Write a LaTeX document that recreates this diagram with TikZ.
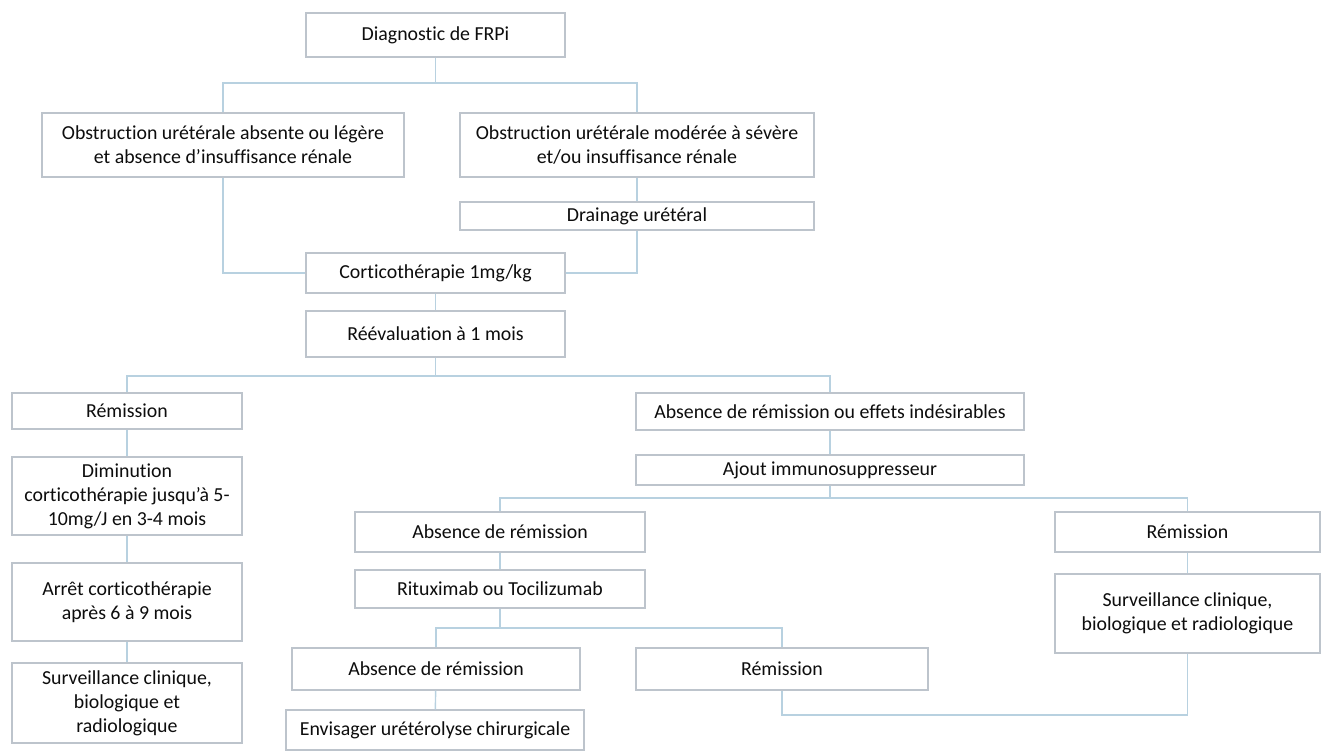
\documentclass[tikz,border=0pt]{standalone}
\usepackage{fontspec}
\setmainfont{Carlito}[Ligatures=NoCommon]
\usepackage{xcolor}
\definecolor{boxgray}{rgb}{0.74,0.77,0.80}
\definecolor{linkblue}{rgb}{0.72,0.82,0.88}
\definecolor{inkgray}{rgb}{0.05,0.05,0.05}

\begin{document}
\begin{tikzpicture}[x=0.02cm,y=-0.02cm,
  box/.style={draw=boxgray,line width=0.6pt,fill=white,align=center,inner sep=0pt,
    text=inkgray,font=\fontsize{11.3}{13.6}\selectfont},
  boxsize/.style 2 args={minimum width=#1*0.02cm,minimum height=#2*0.02cm},
  link/.style={draw=linkblue,line width=0.8pt}]
\useasboundingbox (0,0) rectangle (1325,751);

% Top: diagnosis and first split
\node[box,boxsize={259}{44}] (diag) at (435.5,35) {Diagnostic de FRPi};
\node[box,boxsize={362}{64}] (obsL) at (223,145) {Obstruction urétérale absente ou légère\\ et absence d’insuffisance rénale};
\node[box,boxsize={354}{64}] (obsR) at (637,145) {Obstruction urétérale modérée à sévère\\ et/ou insuffisance rénale};
\node[box,boxsize={354}{28}] (drain) at (637,216) {Drainage urétéral};
\node[box,boxsize={259}{40}] (cortico) at (435.5,273) {Corticothérapie 1mg/kg};
\node[box,boxsize={259}{46}] (reeval) at (435.5,334) {Réévaluation à 1 mois};

% Left branch: remission
\node[box,boxsize={230}{36}] (remL) at (127,411) {Rémission};
\node[box,boxsize={230}{78}] (dimin) at (127,496) {Diminution\\ corticothérapie jusqu’à 5-\\ 10mg/J en 3-4 mois};
\node[box,boxsize={230}{78}] (arret) at (127,602) {Arrêt corticothérapie\\ après 6 à 9 mois};
\node[box,boxsize={230}{80}] (survL) at (127,703) {Surveillance clinique,\\ biologique et\\ radiologique};

% Right branch: no remission
\node[box,boxsize={388}{37}] (absEff) at (830,411.5) {Absence de rémission ou effets indésirables};
\node[box,boxsize={388}{30}] (ajout) at (830,470) {Ajout immunosuppresseur};
\node[box,boxsize={290}{40}] (absMid) at (500,532) {Absence de rémission};
\node[box,boxsize={290}{38}] (ritux) at (500,589) {Rituximab ou Tocilizumab};
\node[box,boxsize={265}{40}] (remR) at (1187.5,532) {Rémission};
\node[box,boxsize={265}{79}] (survR) at (1187.5,613.5) {Surveillance clinique,\\ biologique et radiologique};
\node[box,boxsize={288}{42}] (absBot) at (436,669) {Absence de rémission};
\node[box,boxsize={298}{40}] (envis) at (435,730) {Envisager urétérolyse chirurgicale};
\node[box,boxsize={292}{42}] (remMid) at (782,669) {Rémission};

% Junction points
\coordinate (j1) at (435.5,83);
\coordinate (j2) at (435.5,376);
\coordinate (j3) at (830,498);
\coordinate (j4) at (500,628);
\coordinate (j5) at (782,715);

% Connectors
\draw[link] (diag) -- (j1);
\draw[link] (obsL.north) |- (j1) -| (obsR.north);
\draw[link] (obsR) -- (drain);
\draw[link] (obsL.south) |- (cortico.west);
\draw[link] (drain.south) |- (cortico.east);
\draw[link] (cortico) -- (reeval);
\draw[link] (reeval) -- (j2);
\draw[link] (remL.north) |- (j2) -| (absEff.north);
\draw[link] (remL) -- (dimin);
\draw[link] (dimin) -- (arret);
\draw[link] (arret) -- (survL);
\draw[link] (absEff) -- (ajout);
\draw[link] (ajout) -- (j3);
\draw[link] (absMid.north) |- (j3) -| (remR.north);
\draw[link] (absMid) -- (ritux);
\draw[link] (remR) -- (survR);
\draw[link] (ritux) -- (j4);
\draw[link] (absBot.north) |- (j4) -| (remMid.north);
\draw[link] (absBot) -- (envis);
\draw[link] (remMid.south) -- (j5) -| (survR.south);
\end{tikzpicture}
\end{document}
